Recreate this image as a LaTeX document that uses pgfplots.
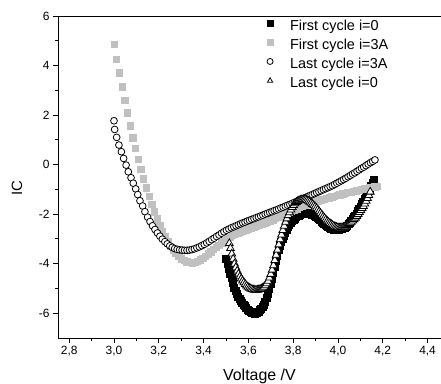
\documentclass[border=0pt]{standalone}
\usepackage{fontspec}
\setmainfont{Liberation Sans}
\usepackage{pgfplots}
\usepackage{pgfplotstable}
\pgfplotsset{compat=1.18}
\definecolor{lgray}{RGB}{192,192,192}

\pgfplotstableread{
V IC
3.500 -3.78
3.506 -3.99
3.512 -4.19
3.518 -4.39
3.524 -4.58
3.530 -4.77
3.536 -4.95
3.542 -5.10
3.548 -5.22
3.554 -5.33
3.560 -5.42
3.566 -5.50
3.572 -5.57
3.578 -5.64
3.584 -5.71
3.590 -5.78
3.596 -5.84
3.602 -5.89
3.608 -5.94
3.614 -5.97
3.620 -5.99
3.626 -6.00
3.632 -5.99
3.638 -5.96
3.644 -5.92
3.650 -5.87
3.656 -5.81
3.662 -5.74
3.668 -5.65
3.674 -5.52
3.680 -5.37
3.686 -5.20
3.692 -5.02
3.698 -4.82
3.704 -4.60
3.710 -4.37
3.716 -4.13
3.722 -3.89
3.728 -3.66
3.734 -3.45
3.740 -3.27
3.746 -3.12
3.752 -2.98
3.758 -2.85
3.764 -2.73
3.770 -2.62
3.776 -2.52
3.782 -2.43
3.788 -2.35
3.794 -2.28
3.800 -2.22
3.806 -2.17
3.812 -2.12
3.818 -2.08
3.824 -2.04
3.830 -2.01
3.836 -1.99
3.842 -1.97
3.848 -1.96
3.854 -1.95
3.860 -1.95
3.866 -1.95
3.872 -1.96
3.878 -1.98
3.884 -2.00
3.890 -2.03
3.896 -2.06
3.902 -2.10
3.908 -2.14
3.914 -2.19
3.920 -2.24
3.926 -2.29
3.932 -2.34
3.938 -2.39
3.944 -2.44
3.950 -2.48
3.956 -2.52
3.962 -2.55
3.968 -2.57
3.974 -2.59
3.980 -2.61
3.986 -2.62
3.992 -2.62
3.998 -2.62
4.004 -2.61
4.010 -2.60
4.016 -2.58
4.022 -2.56
4.028 -2.53
4.034 -2.49
4.040 -2.45
4.046 -2.40
4.052 -2.34
4.058 -2.27
4.064 -2.20
4.070 -2.12
4.076 -2.04
4.082 -1.96
4.088 -1.87
4.094 -1.78
4.100 -1.69
4.106 -1.59
4.112 -1.49
4.118 -1.39
4.124 -1.28
4.130 -1.17
4.136 -1.06
4.142 -0.95
4.148 -0.83
4.154 -0.71
4.160 -0.59
}\firstzero

\pgfplotstableread{
V IC
3.000 4.87
3.009 4.26
3.024 3.71
3.036 3.15
3.048 2.61
3.059 2.10
3.071 1.57
3.083 1.09
3.095 0.66
3.107 0.23
3.119 -0.18
3.131 -0.57
3.143 -0.93
3.156 -1.28
3.168 -1.60
3.180 -1.90
3.192 -2.18
3.204 -2.44
3.216 -2.68
3.228 -2.90
3.240 -3.10
3.252 -3.28
3.264 -3.44
3.276 -3.58
3.288 -3.70
3.300 -3.79
3.312 -3.86
3.324 -3.91
3.336 -3.94
3.348 -3.95
3.360 -3.94
3.372 -3.90
3.384 -3.84
3.396 -3.77
3.408 -3.69
3.420 -3.60
3.432 -3.51
3.444 -3.42
3.456 -3.33
3.468 -3.24
3.480 -3.15
3.492 -3.07
3.504 -2.99
3.516 -2.92
3.528 -2.85
3.540 -2.80
3.552 -2.75
3.564 -2.71
3.576 -2.67
3.588 -2.63
3.600 -2.59
3.612 -2.55
3.624 -2.51
3.636 -2.47
3.648 -2.43
3.660 -2.39
3.672 -2.35
3.684 -2.31
3.696 -2.26
3.708 -2.22
3.720 -2.17
3.732 -2.12
3.744 -2.07
3.756 -2.02
3.768 -1.97
3.780 -1.92
3.792 -1.87
3.804 -1.82
3.816 -1.77
3.828 -1.72
3.840 -1.67
3.852 -1.63
3.864 -1.59
3.876 -1.55
3.888 -1.52
3.900 -1.48
3.912 -1.45
3.924 -1.42
3.936 -1.39
3.948 -1.36
3.960 -1.33
3.972 -1.30
3.984 -1.27
3.996 -1.24
4.008 -1.21
4.020 -1.18
4.032 -1.15
4.044 -1.12
4.056 -1.10
4.068 -1.07
4.080 -1.05
4.092 -1.02
4.104 -1.00
4.116 -0.97
4.128 -0.95
4.140 -0.93
4.152 -0.91
4.164 -0.89
4.176 -0.87
}\firstthree

\pgfplotstableread{
V IC
3.000 1.77
3.003 1.42
3.012 1.10
3.022 0.79
3.033 0.52
3.043 0.25
3.054 -0.02
3.064 -0.29
3.076 -0.53
3.086 -0.75
3.097 -0.98
3.106 -1.21
3.116 -1.46
3.128 -1.67
3.138 -1.90
3.150 -2.12
3.161 -2.30
3.172 -2.47
3.183 -2.62
3.194 -2.76
3.205 -2.89
3.216 -3.01
3.227 -3.11
3.238 -3.20
3.249 -3.28
3.260 -3.34
3.271 -3.39
3.282 -3.42
3.293 -3.44
3.304 -3.45
3.315 -3.46
3.326 -3.46
3.337 -3.45
3.348 -3.43
3.359 -3.40
3.370 -3.36
3.381 -3.32
3.392 -3.27
3.403 -3.22
3.414 -3.16
3.425 -3.10
3.436 -3.03
3.447 -2.97
3.458 -2.90
3.469 -2.84
3.480 -2.77
3.491 -2.71
3.502 -2.65
3.513 -2.60
3.524 -2.55
3.535 -2.51
3.545 -2.47
3.555 -2.43
3.565 -2.39
3.575 -2.35
3.585 -2.32
3.595 -2.28
3.605 -2.25
3.615 -2.21
3.625 -2.18
3.635 -2.14
3.645 -2.11
3.655 -2.07
3.665 -2.04
3.675 -2.00
3.685 -1.97
3.695 -1.93
3.705 -1.90
3.715 -1.86
3.725 -1.83
3.735 -1.79
3.745 -1.75
3.755 -1.72
3.765 -1.68
3.775 -1.64
3.785 -1.61
3.795 -1.57
3.805 -1.53
3.815 -1.49
3.825 -1.45
3.835 -1.41
3.845 -1.37
3.855 -1.33
3.865 -1.29
3.875 -1.25
3.885 -1.21
3.895 -1.17
3.905 -1.13
3.915 -1.09
3.925 -1.05
3.935 -1.01
3.945 -0.97
3.955 -0.93
3.965 -0.89
3.975 -0.85
3.985 -0.80
3.995 -0.75
4.005 -0.70
4.015 -0.65
4.025 -0.60
4.035 -0.55
4.045 -0.49
4.055 -0.44
4.065 -0.38
4.075 -0.33
4.085 -0.27
4.095 -0.21
4.105 -0.15
4.115 -0.10
4.125 -0.04
4.135 0.02
4.145 0.08
4.155 0.13
4.165 0.19
}\lastthree

\pgfplotstableread{
V IC
3.515 -3.18
3.520 -3.38
3.526 -3.60
3.532 -3.81
3.538 -4.00
3.544 -4.15
3.550 -4.29
3.556 -4.41
3.562 -4.52
3.568 -4.61
3.574 -4.69
3.580 -4.76
3.586 -4.83
3.592 -4.89
3.598 -4.94
3.604 -4.98
3.610 -5.01
3.616 -5.03
3.622 -5.05
3.628 -5.06
3.634 -5.06
3.640 -5.06
3.646 -5.05
3.652 -5.03
3.658 -5.01
3.664 -4.98
3.670 -4.94
3.676 -4.88
3.682 -4.80
3.688 -4.70
3.694 -4.57
3.700 -4.42
3.706 -4.25
3.712 -4.07
3.718 -3.86
3.724 -3.65
3.730 -3.44
3.736 -3.23
3.742 -3.02
3.748 -2.83
3.754 -2.65
3.760 -2.48
3.766 -2.32
3.772 -2.18
3.778 -2.05
3.784 -1.93
3.790 -1.82
3.796 -1.72
3.802 -1.64
3.808 -1.57
3.814 -1.52
3.820 -1.48
3.826 -1.45
3.832 -1.43
3.838 -1.42
3.844 -1.41
3.850 -1.41
3.856 -1.42
3.862 -1.44
3.868 -1.47
3.874 -1.51
3.880 -1.55
3.886 -1.60
3.892 -1.65
3.898 -1.70
3.904 -1.76
3.910 -1.82
3.916 -1.89
3.922 -1.96
3.928 -2.03
3.934 -2.10
3.940 -2.16
3.946 -2.22
3.952 -2.28
3.958 -2.33
3.964 -2.37
3.970 -2.41
3.976 -2.45
3.982 -2.48
3.988 -2.51
3.994 -2.53
4.000 -2.54
4.006 -2.55
4.012 -2.55
4.018 -2.54
4.024 -2.53
4.030 -2.51
4.036 -2.48
4.042 -2.45
4.048 -2.41
4.054 -2.37
4.060 -2.32
4.066 -2.27
4.072 -2.21
4.078 -2.15
4.084 -2.08
4.090 -2.00
4.096 -1.92
4.102 -1.84
4.108 -1.76
4.114 -1.68
4.120 -1.58
4.126 -1.47
4.132 -1.36
4.138 -1.24
4.144 -1.10
}\lastzero

\begin{document}
\begin{tikzpicture}
\begin{axis}[
  scale only axis,
  width=383bp, height=322bp,
  xmin=2.75, xmax=4.46, ymin=-7, ymax=6,
  clip mode=individual,
  axis x line=box, axis y line=left,
  axis line style={-, line width=0.9pt, black},
  xtick pos=left,
  xtick={2.8,3.0,...,4.41},
  ytick={-6,-4,...,6},
  minor x tick num=1, minor y tick num=1,
  tick align=outside,
  major tick length=5bp, minor tick length=3bp,
  tick style={line width=0.9pt, black},
  /pgf/number format/assume math mode=true,
  xticklabel={\pgfmathprintnumber[fixed,fixed zerofill,precision=1,use comma]{\tick}},
  yticklabel={\pgfmathprintnumber[fixed,precision=0]{\tick}},
  ticklabel style={font=\fontsize{12}{14}\selectfont},
  legend style={draw=none, fill=none, at={(rel axis cs:0.535,1.0)}, anchor=north west,
    font=\fontsize{14.5}{16}\selectfont,
    nodes={inner sep=1pt, text height=11pt, text depth=6.3pt}},
  legend cell align=left,
  legend image code/.code={\path[draw=none,fill=none] (-4pt,0) rectangle (19pt,1pt); \draw[#1,mark size=3bp] plot coordinates {(0pt,4.8pt)};},
]
\addplot[only marks, mark=square*, mark size=3.5bp, mark options={fill=black, draw=black, line width=0.3pt}] table[x=V,y=IC] {\firstzero};
\addlegendentry{First cycle i=0}
\addplot[only marks, mark=square*, mark size=3.2bp, mark options={fill=lgray, draw=lgray, line width=0.3pt}] table[x=V,y=IC] {\firstthree};
\addlegendentry{First cycle i=3A}
\addplot[only marks, mark=*, mark size=3.4bp, mark options={fill=white, draw=black, line width=0.8pt}] table[x=V,y=IC] {\lastthree};
\addlegendentry{Last cycle i=3A}
\addplot[only marks, mark=triangle*, mark size=4.5bp, mark options={fill=white, draw=black, line width=0.8pt}] table[x=V,y=IC] {\lastzero};
\addlegendentry{Last cycle i=0}
\coordinate (LL) at (rel axis cs:0,0);
\coordinate (UR) at (rel axis cs:1,1);
\coordinate (XL) at (rel axis cs:0.526,-0.133);
\coordinate (YL) at (rel axis cs:-0.107,0.466);
\end{axis}
\node[font=\fontsize{16}{18}\selectfont, anchor=base] at (XL) {Voltage /V};
\node[font=\fontsize{15}{17}\selectfont, rotate=90, anchor=center] at (YL) {IC};
\pgfresetboundingbox
\path[use as bounding box] ([xshift=-58bp,yshift=-45bp]LL) rectangle ([yshift=16bp]UR);
\end{tikzpicture}
\end{document}
